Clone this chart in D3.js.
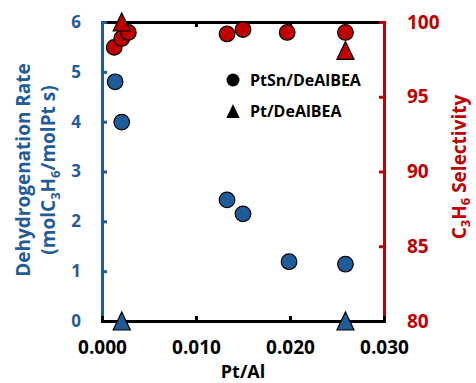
<!DOCTYPE html>
<html>
<head>
<meta charset="utf-8">
<script src="https://cdn.jsdelivr.net/npm/d3@7"></script>
<style>
  body { margin: 0; background: #fff; }
  svg { font-family: "Open Sans", Lato, sans-serif; font-weight: 700; }
</style>
</head>
<body>
<svg></svg>
<script>
const width = 476;
const height = 383;
const blue = '#1f5c99';
const red = '#c00000';

// PtSn/DeAlBEA
const ptsnRatio = [0.0014, 0.0021, 0.0133, 0.0150, 0.0199, 0.0259];
const ptsnRate = [4.80, 3.99, 2.43, 2.15, 1.19, 1.14];
const ptsnSelRatio = [0.0013, 0.0021, 0.0028, 0.0133, 0.0150, 0.0197, 0.0259];
const ptsnSel = [98.3, 98.9, 99.3, 99.2, 99.5, 99.3, 99.3];

// Pt/DeAlBEA
const ptRatio = [0.0021, 0.0259];
const ptRate = [0, 0];
const ptSel = [100, 98.1];

const xTicks = [0, 0.01, 0.02, 0.03];
const rateTicks = [0, 1, 2, 3, 4, 5, 6];
const selTicks = [80, 85, 90, 95, 100];

const svg = d3.select('svg').attr('width', width).attr('height', height);

//Scales
const xScale = d3.scaleLinear().domain([0, 0.03]).range([102, 384]);
const yRate = d3.scaleLinear().domain([0, 6]).range([321, 22]);
const ySel = d3.scaleLinear().domain([80, 100]).range([321, 22]);

//Axes
function styleAxis(g, color) {
    g.select('.domain').attr('stroke', color).attr('stroke-width', 3);
    g.selectAll('.tick line').attr('stroke', color).attr('stroke-width', 3);
    g.selectAll('.tick text').attr('fill', color).attr('font-weight', 700);
    g.attr('font-family', null);
}

svg.append('g')
   .attr('transform', `translate(0, ${yRate(6)})`)
   .call(d3.axisTop(xScale).tickValues(xTicks).tickSize(-5).tickSizeOuter(0).tickFormat(''))
   .call(g => styleAxis(g, 'black'));

svg.append('g')
   .attr('transform', `translate(${xScale(0)}, 0)`)
   .call(d3.axisLeft(yRate).tickValues(rateTicks).tickSize(-5).tickSizeOuter(0).tickPadding(21)
            .tickFormat(d3.format('d')))
   .attr('font-size', 17)
   .call(g => styleAxis(g, blue));

svg.append('g')
   .attr('transform', `translate(${xScale(0.03)}, 0)`)
   .call(d3.axisRight(ySel).tickValues(selTicks).tickSize(-5).tickSizeOuter(0).tickPadding(23))
   .attr('font-size', 19)
   .call(g => styleAxis(g, red));

svg.append('g')
   .attr('transform', `translate(0, ${yRate(0)})`)
   .call(d3.axisBottom(xScale).tickValues(xTicks).tickSize(-5).tickSizeOuter(0).tickPadding(20)
            .tickFormat(d3.format('.3f')))
   .attr('font-size', 19)
   .call(g => styleAxis(g, 'black'));

svg.selectAll('.domain').attr('stroke-linecap', 'square');

//Axis titles
const leftTitle = svg.append('text')
   .attr('transform', 'translate(30, 170) rotate(-90)')
   .attr('text-anchor', 'middle')
   .attr('fill', blue)
   .style('font-size', '19px');
leftTitle.append('tspan').attr('x', 0).attr('y', 0).text('Dehydrogenation Rate');
const line2 = leftTitle.append('tspan').attr('x', 0).attr('y', 25);
line2.append('tspan').text('(molC');
line2.append('tspan').attr('dy', 5).style('font-size', '13px').text('3');
line2.append('tspan').attr('dy', -5).text('H');
line2.append('tspan').attr('dy', 5).style('font-size', '13px').text('6');
line2.append('tspan').attr('dy', -5).text('/molPt s)');

const rightTitle = svg.append('text')
   .attr('transform', 'translate(466, 167) rotate(-90)')
   .attr('text-anchor', 'middle')
   .attr('fill', red)
   .style('font-size', '19px');
rightTitle.append('tspan').text('C');
rightTitle.append('tspan').attr('dy', 4).style('font-size', '13px').text('3');
rightTitle.append('tspan').attr('dy', -4).text('H');
rightTitle.append('tspan').attr('dy', 4).style('font-size', '13px').text('6');
rightTitle.append('tspan').attr('dy', -4).text(' Selectivity');

svg.append('text')
   .attr('x', 243)
   .attr('y', 378)
   .attr('text-anchor', 'middle')
   .style('font-size', '18px')
   .text('Pt/Al');

//Markers
const triangle = s => `M0,${-s}L${s * 0.95},${s}L${-s * 0.95},${s}Z`;

function circles(xs, ys, yScale, color) {
    svg.append('g').selectAll('circle')
       .data(xs.map((x, i) => [x, ys[i]]))
       .enter()
       .append('circle')
           .attr('cx', d => xScale(d[0]))
           .attr('cy', d => yScale(d[1]))
           .attr('r', 7.8)
           .attr('fill', color)
           .attr('stroke', 'black')
           .attr('stroke-width', 1.2);
}

function triangles(xs, ys, yScale, color) {
    svg.append('g').selectAll('path')
       .data(xs.map((x, i) => [x, ys[i]]))
       .enter()
       .append('path')
           .attr('transform', d => `translate(${xScale(d[0])}, ${yScale(d[1])})`)
           .attr('d', triangle(9))
           .attr('fill', color)
           .attr('stroke', 'black')
           .attr('stroke-width', 1.2);
}

circles(ptsnRatio, ptsnRate, yRate, blue);
triangles(ptRatio, ptRate, yRate, blue);
circles(ptsnSelRatio, ptsnSel, ySel, red);
triangles(ptRatio, ptSel, ySel, red);

//Legend
const legend = svg.append('g').style('font-size', '16px');
legend.append('circle').attr('cx', 233).attr('cy', 80).attr('r', 6.5).attr('fill', 'black');
legend.append('text').attr('x', 250).attr('y', 86).text('PtSn/DeAlBEA');
legend.append('path').attr('transform', 'translate(233, 111)').attr('d', triangle(7)).attr('fill', 'black');
legend.append('text').attr('x', 250).attr('y', 117).text('Pt/DeAlBEA');
</script>
</body>
</html>
